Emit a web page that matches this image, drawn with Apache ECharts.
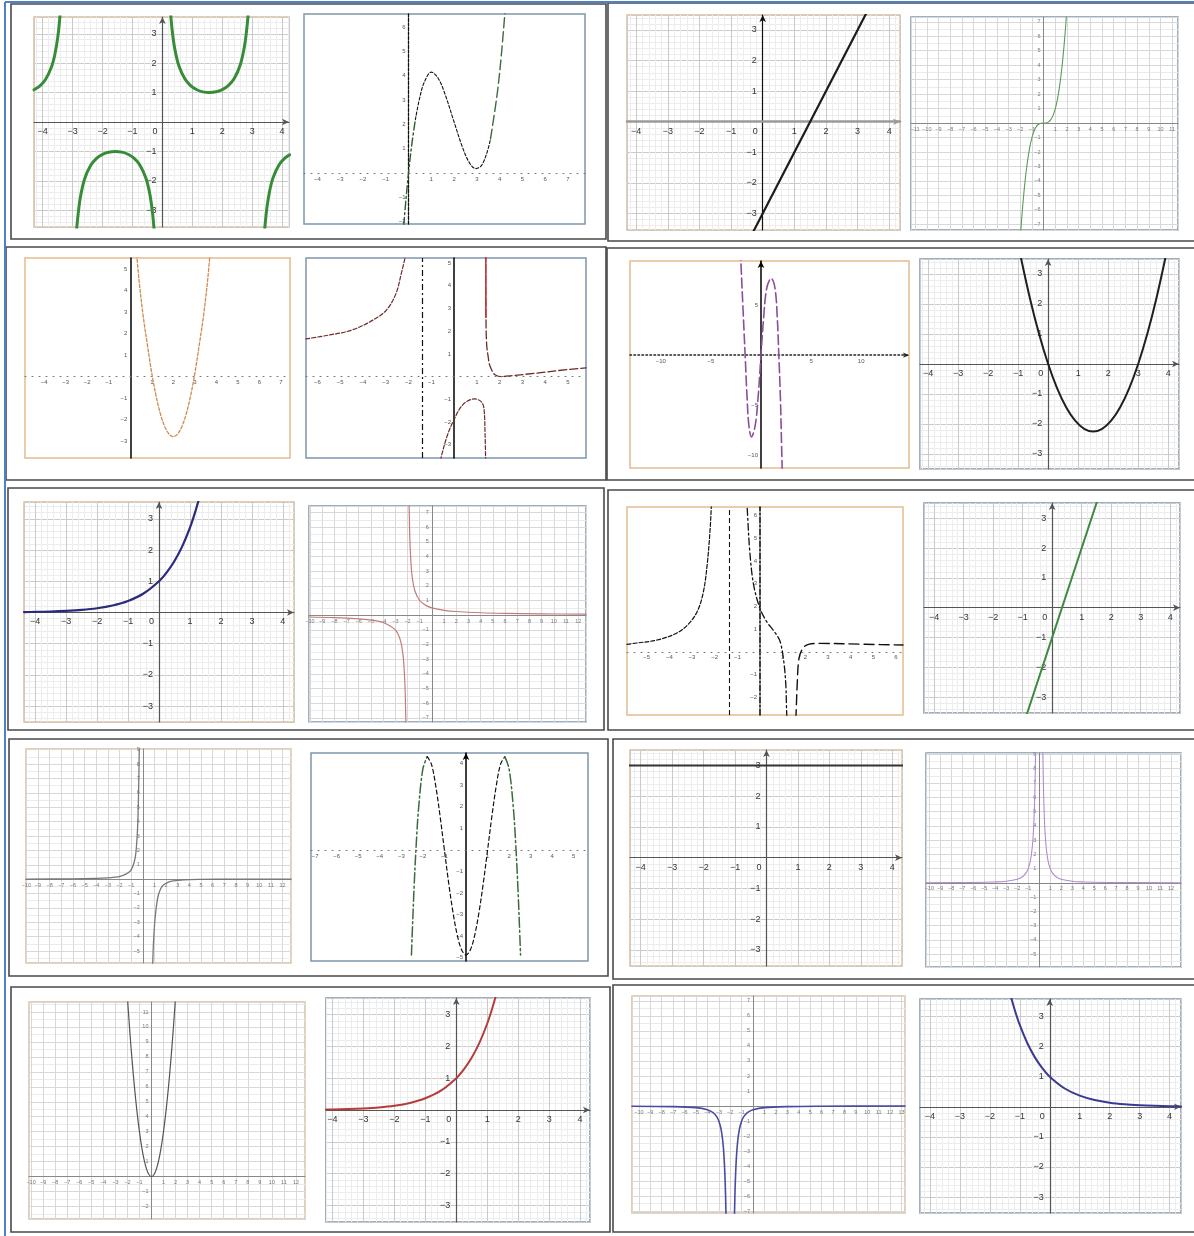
<!DOCTYPE html>
<html><head><meta charset="utf-8">
<script src="https://cdn.jsdelivr.net/npm/echarts@6/dist/echarts.min.js"></script>
<style>html,body{margin:0;padding:0;background:#fff;}#c{width:1194px;height:1236px;}</style>
</head><body><div id="c"></div>
<script>
// ================= DATA =================
// Plot 1 : cosecant branches
const csc1 = [[-4.29,1.095],[-4.1,1.222],[-3.9,1.454],[-3.7,1.887],[-3.6,2.26],[-3.5,2.851],[-3.43,3.512],[-3.4,3.9]];
const csc2 = [[-2.87,-3.73],[-2.84,-3.37],[-2.75,-2.62],[-2.6,-1.94],[-2.4,-1.48],[-2.2,-1.237],[-2.0,-1.10],[-1.8,-1.027],[-1.571,-1],[-1.35,-1.025],[-1.15,-1.096],[-0.95,-1.229],[-0.75,-1.467],[-0.55,-1.913],[-0.42,-2.452],[-0.33,-3.086],[-0.27,-3.75]];
const csc3 = [[0.27,3.75],[0.33,3.086],[0.42,2.452],[0.55,1.913],[0.75,1.467],[0.95,1.229],[1.15,1.096],[1.35,1.025],[1.571,1],[1.8,1.027],[2.0,1.10],[2.2,1.237],[2.4,1.48],[2.6,1.94],[2.75,2.62],[2.84,3.37],[2.87,3.73]];
const csc4 = [[3.4,-3.9],[3.43,-3.512],[3.5,-2.851],[3.6,-2.26],[3.7,-1.887],[3.9,-1.454],[4.1,-1.222],[4.25,-1.117]];
// Plot 2 : cubic
const cub2L = [[-0.21,-2.16],[-0.1,-0.96],[0,0],[0.15,1.22],[0.3,2.19]];
const cub2M = [[0.3,2.19],[0.5,3.13],[0.7,3.75],[1.0,4.15],[1.3,3.9],[1.6,3.25],[2.0,2.1],[2.4,0.98],[2.7,0.38],[2.95,0.18],[3.2,0.3],[3.45,0.85],[3.6,1.4]];
const cub2R = [[3.6,1.4],[3.9,3.3],[4.1,5.1],[4.3,7.4]];
// Plot 3 : straight line
const line3 = [[-0.3,-3.6],[3.3,3.6]];
// Plot 4 : cubic
const cube4 = [[-2.0,-8],[-1.9,-6.86],[-1.8,-5.83],[-1.6,-4.10],[-1.4,-2.74],[-1.2,-1.73],[-1.0,-1],[-0.8,-0.512],[-0.6,-0.216],[-0.4,-0.064],[-0.2,-0.008],[0,0],[0.2,0.008],[0.4,0.064],[0.6,0.216],[0.8,0.512],[1.0,1],[1.2,1.73],[1.4,2.74],[1.6,4.10],[1.8,5.83],[1.9,6.86],[2.0,8]];
// Plot 5 : parabola
const para5 = [[0.28,5.93],[0.4,4.56],[0.6,2.82],[0.8,1.45],[1.0,0.15],[1.2,-0.91],[1.4,-1.74],[1.6,-2.33],[1.8,-2.68],[2.0,-2.8],[2.2,-2.68],[2.4,-2.33],[2.6,-1.74],[2.8,-0.91],[3.0,0.15],[3.2,1.45],[3.4,2.82],[3.6,4.56],[3.72,5.93]];
// Plot 6 : rational function
const rat6L = [[-6.5,1.66],[-5.49,1.83],[-4.48,2.05],[-3.56,2.49],[-2.97,2.93],[-2.55,3.66],[-2.30,4.61],[-2.16,5.2],[-2.12,5.5]];
const rat6M = [[-0.6,-3.7],[-0.54,-3.43],[-0.3,-2.6],[-0.04,-1.97],[0.38,-1.24],[0.89,-0.98],[1.19,-1.1],[1.31,-1.39],[1.36,-2.56],[1.385,-3.7]];
const rat6R = [[1.39,5.4],[1.40,2.6],[1.43,1.4],[1.5,0.85],[1.56,0.51],[1.7,0.2],[1.81,0.07],[2.06,0.0],[2.6,0.05],[3.57,0.15],[4.6,0.27],[5.79,0.39]];
const rat6Red = [[1.39,5.4],[1.395,2.6]];
const asym6 = [-1.41];
// Plot 7 : oscillating curve
const wave7 = [[-2.05,10.5],[-2.01,9.4],[-1.78,4.33],[-1.55,-0.67],[-1.40,-4.0],[-1.21,-7.0],[-0.95,-8.17],[-0.57,-7.0],[-0.27,-4.0],[0,0],[0.26,3.67],[0.57,6.67],[1.02,7.67],[1.4,6.67],[1.63,3.67],[1.78,0],[1.93,-4.0],[2.08,-10.0],[2.12,-11.5]];
// Plot 8 : parabola
const para8 = [[-0.9,3.51],[-0.6,2.16],[-0.3,0.99],[0,0],[0.3,-0.81],[0.6,-1.44],[0.9,-1.89],[1.2,-2.16],[1.5,-2.25],[1.8,-2.16],[2.1,-1.89],[2.4,-1.44],[2.7,-0.81],[3.0,0],[3.3,0.99],[3.6,2.16],[3.9,3.51]];
// Plot 9 : growth curve
const exp9 = [[-4.36,0.013],[-4,0.018],[-3.5,0.030],[-3,0.050],[-2.5,0.082],[-2,0.135],[-1.5,0.223],[-1,0.368],[-0.5,0.607],[0,1],[0.25,1.284],[0.5,1.649],[0.75,2.117],[1,2.718],[1.15,3.158],[1.3,3.669]];
// Plot 10 : hyperbola
const hyp10L = [[-10.08,-0.124],[-8,-0.167],[-6,-0.25],[-5,-0.333],[-4,-0.5],[-3,-1],[-2.6,-1.667],[-2.4,-2.5],[-2.3,-3.33],[-2.2,-5],[-2.14,-7.14],[-2.12,-8.3]];
const hyp10R = [[-1.88,8.3],[-1.86,7.14],[-1.8,5],[-1.7,3.33],[-1.6,2.5],[-1.4,1.667],[-1,1],[-0.5,0.667],[0,0.5],[1,0.333],[2,0.25],[4,0.1667],[6,0.125],[9,0.0909],[12.64,0.0684]];
// Plot 11 : rational function with two poles
const rat11L = [[-5.87,0.33],[-5.57,0.37],[-4.54,0.52],[-3.70,0.81],[-3.20,1.18],[-2.78,1.76],[-2.50,2.64],[-2.32,3.96],[-2.20,5.44],[-2.15,6.39],[-2.12,7]];
const rat11M = [[-0.6,7],[-0.56,6.24],[-0.45,4.41],[-0.28,2.94],[0,1.91],[0.30,1.32],[0.64,0.88],[0.89,0.44],[1.05,-0.44],[1.14,-1.47],[1.17,-2.49],[1.19,-3]];
const rat11R = [[1.58,-3],[1.60,-2.49],[1.64,-1.47],[1.72,-0.29],[1.89,0.15],[2.14,0.33],[2.64,0.37],[4.64,0.33],[6.31,0.3]];
const asym11 = [-1.37];
// Plot 12 : straight line
const line12 = [[-0.9,-3.7],[1.6,3.8]];
// Plot 13 : odd hyperbola-like curve
const hyp13L = [[-10.03,0],[-6,0.02],[-4,0.05],[-3,0.09],[-2.4,0.14],[-1.95,0.2],[-1.5,0.33],[-1.09,0.55],[-0.85,0.9],[-0.66,1.46],[-0.55,2.2],[-0.45,3.5],[-0.38,5.3],[-0.33,7.5],[-0.3,9.1]];
const hyp13R = [[0.85,-5.9],[0.92,-4.4],[1.0,-3.3],[1.06,-2.7],[1.2,-1.7],[1.34,-1.1],[1.55,-0.65],[1.77,-0.4],[2.2,-0.2],[2.63,-0.12],[3.5,-0.05],[5,-0.02],[8,0],[12.73,0]];
// Plot 14 : even wave
const wave14L = [[-2.53,-4.88],[-2.5,-4.04],[-2.4,-1.56],[-2.3,0.40],[-2.2,1.92],[-2.0,3.76],[-1.8,4.33]];
const wave14M = [[-1.8,4.33],[-1.6,3.97],[-1.4,2.95],[-1.2,1.55],[-1.0,-0.02],[-0.8,-1.56],[-0.6,-2.92],[-0.4,-3.98],[-0.2,-4.65],[0,-4.88],[0.2,-4.65],[0.4,-3.98],[0.6,-2.92],[0.8,-1.56],[1.0,-0.02],[1.2,1.55],[1.4,2.95],[1.6,3.97],[1.8,4.33]];
const wave14R = [[1.8,4.33],[2.0,3.76],[2.2,1.92],[2.3,0.40],[2.4,-1.56],[2.5,-4.04],[2.53,-4.88]];
// Plot 15 : constant
const const15 = [[-4.4,3],[4.4,3]];
// Plot 16 : spike up
const spike16L = [[-10.3,0.0094],[-6,0.028],[-4,0.0625],[-3,0.111],[-2,0.25],[-1.5,0.444],[-1.2,0.694],[-1,1],[-0.8,1.5625],[-0.65,2.367],[-0.55,3.306],[-0.47,4.527],[-0.41,5.949],[-0.36,7.716],[-0.32,9.766]];
const spike16R = [[0.32,9.766],[0.36,7.716],[0.41,5.949],[0.47,4.527],[0.55,3.306],[0.65,2.367],[0.8,1.5625],[1,1],[1.2,0.694],[1.5,0.444],[2,0.25],[3,0.111],[4,0.0625],[6,0.028],[12.9,0.006]];
// Plot 17 : narrow parabola
const para17 = [[-2.05,12.6],[-1.8,9.72],[-1.6,7.68],[-1.4,5.88],[-1.2,4.32],[-1,3],[-0.8,1.92],[-0.6,1.08],[-0.4,0.48],[-0.2,0.12],[0,0],[0.2,0.12],[0.4,0.48],[0.6,1.08],[0.8,1.92],[1,3],[1.2,4.32],[1.4,5.88],[1.6,7.68],[1.8,9.72],[2.05,12.6]];
// Plot 18 : growth curve
const exp18 = [[-4.21,0.015],[-4,0.018],[-3.5,0.030],[-3,0.050],[-2.5,0.082],[-2,0.135],[-1.5,0.223],[-1,0.368],[-0.5,0.607],[0,1],[0.25,1.284],[0.5,1.649],[0.75,2.117],[1,2.718],[1.15,3.158],[1.3,3.669]];
// Plot 19 : spike down
const spike19L = [[-10.6,-0.0135],[-7,-0.04],[-5,-0.111],[-4,-0.25],[-3.5,-0.444],[-3.2,-0.694],[-3,-1],[-2.8,-1.5625],[-2.65,-2.367],[-2.55,-3.306],[-2.47,-4.527],[-2.41,-5.949],[-2.36,-7.716],[-2.33,-9.18]];
const spike19R = [[-1.67,-9.18],[-1.64,-7.716],[-1.59,-5.949],[-1.53,-4.527],[-1.45,-3.306],[-1.35,-2.367],[-1.2,-1.5625],[-1,-1],[-0.8,-0.694],[-0.5,-0.444],[0,-0.25],[1,-0.111],[3,-0.04],[6,-0.0156],[13.3,-0.0042]];
// Plot 20 : decay curve
const decay20 = [[-1.3,3.669],[-1.15,3.158],[-1,2.718],[-0.75,2.117],[-0.5,1.649],[-0.25,1.284],[0,1],[0.5,0.607],[1,0.368],[1.5,0.223],[2,0.135],[2.5,0.082],[3,0.050],[3.5,0.030],[4,0.018],[4.38,0.0125]];

// ================= LAYOUT =================
const panels = [
 {s:'A', f:[34,17,289,227],  x:[-4.29,4.23], y:[-3.57,3.57], b:'o'},
 {s:'C', f:[304,14,585,224], x:[-4.59,7.75], y:[-2.1,6.54], b:'b', yl:{color:'#111',width:1.3,type:[3,1.5]}},
 {s:'A', f:[627,15,900,230], x:[-4.29,4.34], y:[-3.54,3.49], b:'o', xl:{color:'#9a9a9a',width:2.5}, ylc:'#111'},
 {s:'B', f:[911,17,1178,230], x:[-11.35,11.5], y:[-7.39,7.33], b:'b'},
 {s:'C', f:[25,258,290,458], x:[-4.89,7.42], y:[-3.8,5.53], b:'o', yl:{color:'#000',width:1.5}},
 {s:'C', f:[306,258,586,458], x:[-6.5,5.79], y:[-3.58,5.22], b:'b', yl:{color:'#000',width:1.5}},
 {s:'C', f:[630,261,909,468], x:[-13.07,14.77], y:[-11.27,9.4], b:'o', step:5, yl:{color:'#000',width:1.5}, arrow:true, xdot:true},
 {s:'A', f:[920,259,1179,469], x:[-4.27,4.36], y:[-3.5,3.5], b:'b'},
 {s:'A', f:[24,502,294,722], x:[-4.36,4.36], y:[-3.51,3.54], b:'o'},
 {s:'B', f:[309,506,586,722], x:[-10.08,12.64], y:[-7.28,7.44], b:'b'},
 {s:'C', f:[627,507,903,715], x:[-5.87,6.31], y:[-2.79,6.39], b:'o', yl:{color:'#000',width:1.5,type:[6,2,2,2]}},
 {s:'A', f:[924,503,1180,713], x:[-4.34,4.33], y:[-3.53,3.51], b:'b'},
 {s:'B', f:[26,749,291,963], x:[-10.03,12.73], y:[-5.83,9.05], b:'o'},
 {s:'C', f:[311,753,588,961], x:[-7.19,5.66], y:[-5.16,4.5], b:'b', yl:{color:'#000',width:1.5}, arrow:true},
 {s:'A', f:[630,750,902,966], x:[-4.34,4.31], y:[-3.52,3.5], b:'o'},
 {s:'B', f:[926,753,1181,967], x:[-10.3,12.9], y:[-5.9,9.1], b:'b'},
 {s:'B', f:[29,1002,305,1219], x:[-10.17,12.75], y:[-2.84,11.67], b:'o'},
 {s:'A', f:[326,998,590,1222], x:[-4.21,4.32], y:[-3.52,3.52], b:'b'},
 {s:'B', f:[632,996,905,1213], x:[-10.6,13.3], y:[-7.13,7.33], b:'o'},
 {s:'A', f:[920,999,1181,1213], x:[-4.33,4.38], y:[-3.53,3.58], b:'b'}
];

const FONT = 'Liberation Sans, Arial, sans-serif';
function intLabel(v){ const r=Math.round(v); if(Math.abs(v-r)>1e-6||r===0) return ''; return (r<0?'\u2212':'')+Math.abs(r); }
function xLabelA(v){ const r=Math.round(v); if(Math.abs(v-r)<1e-6 && r===0) return '{z|0}'; return intLabel(v); }

const grids=[], xAxes=[], yAxes=[];
panels.forEach((p,i)=>{
  const W = p.f[2]-p.f[0], H = p.f[3]-p.f[1];
  // place the axes through the origin of the data window
  const xOff = -H * (0 - p.y[0]) / (p.y[1] - p.y[0]);
  const yOff = -W * (0 - p.x[0]) / (p.x[1] - p.x[0]);
  grids.push({left:p.f[0], top:p.f[1], width:W, height:H, show:true, backgroundColor:'#fff',
    borderColor: p.b==='o' ? '#e3bb8e' : '#7f97ab', borderWidth:1.5, containLabel:false, outerBoundsMode:'none'});
  const bx = {type:'value', gridIndex:i, position:'bottom', offset:xOff, min:p.x[0], max:p.x[1]};
  const by = {type:'value', gridIndex:i, position:'left', offset:yOff, min:p.y[0], max:p.y[1]};
  if (p.s==='A') {
    xAxes.push(Object.assign(bx, {minInterval:1, maxInterval:1,
      axisLine:{onZero:false, lineStyle:Object.assign({color:'#555', width:1.2}, p.xl||{}), symbol:['none','arrow'], symbolSize:[5,7]},
      axisTick:{show:false},
      axisLabel:{fontSize:9, color:'#333', fontFamily:FONT, margin:5, showMinLabel:false, showMaxLabel:false, formatter:xLabelA,
        rich:{z:{fontSize:9, color:'#333', fontFamily:FONT, padding:[0,15,0,0]}}},
      splitLine:{show:true, lineStyle:{color:'#cacaca', width:1}},
      minorTick:{show:false, splitNumber:5},
      minorSplitLine:{show:true, lineStyle:{color:'#ededed', width:1}}}));
    yAxes.push(Object.assign(by, {minInterval:1, maxInterval:1,
      axisLine:{onZero:false, lineStyle:{color:p.ylc||'#555', width:1.2}, symbol:['none','arrow'], symbolSize:[5,7]},
      axisTick:{show:false},
      axisLabel:{fontSize:9, color:'#333', fontFamily:FONT, margin:6, showMinLabel:false, showMaxLabel:false, formatter:intLabel},
      splitLine:{show:true, lineStyle:{color:'#cacaca', width:1}},
      minorTick:{show:false, splitNumber:5},
      minorSplitLine:{show:true, lineStyle:{color:'#ededed', width:1}}}));
  } else if (p.s==='B') {
    xAxes.push(Object.assign(bx, {minInterval:1, maxInterval:1,
      axisLine:{onZero:false, lineStyle:{color:'#888', width:1}},
      axisTick:{show:false},
      axisLabel:{fontSize:5.5, color:'#777', fontFamily:FONT, margin:3, showMinLabel:false, showMaxLabel:false, formatter:intLabel},
      splitLine:{show:true, lineStyle:{color:'#d8d8d8', width:1}},
      minorSplitLine:{show:false}}));
    yAxes.push(Object.assign(by, {minInterval:1, maxInterval:1,
      axisLine:{onZero:false, lineStyle:{color:'#888', width:1}},
      axisTick:{show:false},
      axisLabel:{fontSize:5.5, color:'#777', fontFamily:FONT, margin:3, showMinLabel:false, showMaxLabel:false, formatter:intLabel},
      splitLine:{show:true, lineStyle:{color:'#d8d8d8', width:1}},
      minorTick:{show:false, splitNumber:2},
      minorSplitLine:{show:true, lineStyle:{color:'#ebebeb', width:1}}}));
  } else {
    const st = p.step||1;
    xAxes.push(Object.assign(bx, {minInterval:st, maxInterval:st,
      axisLine:{onZero:false, lineStyle: p.xdot ? {color:'#222', width:1.6, type:[1.5,2.5]} : {color:'#777', width:1.1, type:[1,6]},
        symbol: p.xdot ? ['none','arrow'] : ['none','none'], symbolSize:[4,6]},
      axisTick:{show:false},
      axisLabel:{fontSize:6, color:'#555', fontFamily:FONT, margin:3, showMinLabel:false, showMaxLabel:false, formatter:intLabel},
      splitLine:{show:false}}));
    yAxes.push(Object.assign(by, {minInterval:st, maxInterval:st,
      axisLine:{onZero:false, lineStyle:p.yl, symbol: p.arrow ? ['none','arrow'] : ['none','none'], symbolSize:[5,7]},
      axisTick:{show:false},
      axisLabel:{fontSize:6, color:'#555', fontFamily:FONT, margin:3, showMinLabel:false, showMaxLabel:false, formatter:intLabel},
      splitLine:{show:false}}));
  }
});

function ln(gi, data, color, width, type, extra){
  return Object.assign({type:'line', xAxisIndex:gi, yAxisIndex:gi, data:data, symbol:'none', showSymbol:false,
    smooth:0.35, clip:true, silent:true, animation:false, z:3,
    lineStyle:{color:color, width:width, type:type||'solid', cap:'round', join:'round'}}, extra||{});
}
function vline(gi, vals, color, type, width){
  return {type:'line', xAxisIndex:gi, yAxisIndex:gi, data:[], silent:true, animation:false,
    markLine:{symbol:['none','none'], silent:true, label:{show:false}, animation:false,
      lineStyle:{color:color, type:type, width:width}, data: vals.map(v=>({xAxis:v}))}};
}

const G1='#378c37';
const series = [
  ln(0,csc1,G1,3), ln(0,csc2,G1,3), ln(0,csc3,G1,3), ln(0,csc4,G1,3),
  ln(1,cub2L,'#2e5a2e',1.4,[8,3,2,3]), ln(1,cub2M,'#111',1.1,[3,2]), ln(1,cub2R,'#3d6b3d',1.4,[10,4]),
  ln(2,line3,'#1c1c1c',2.2),
  ln(3,cube4,'#5c9a5c',1.1),
  ln(4,para5,'#cf8a4d',1.3,[3,2]),
  vline(5,asym6,'#111',[6,3,2,3],1.2),
  ln(5,rat6L,'#6e2a2a',1.2,[4,2]), ln(5,rat6M,'#6e2a2a',1.2,[4,2]), ln(5,rat6R,'#6e2a2a',1.3,[8,3]), ln(5,rat6Red,'#c43a3a',1.6),
  ln(6,wave7,'#8b4e9c',1.6,[10,4]),
  ln(7,para8,'#1f1f1f',2),
  ln(8,exp9,'#2b2a7c',2.2),
  ln(9,hyp10L,'#c47c7a',1.2), ln(9,hyp10R,'#c47c7a',1.2),
  vline(10,asym11,'#111',[5,3],1.1),
  ln(10,rat11L,'#111',1.2,[4,2]), ln(10,rat11M,'#111',1.3,[7,3,2,3]), ln(10,rat11R,'#111',1.4,[10,5]),
  ln(11,line12,'#3f8a3f',2),
  ln(12,hyp13L,'#777',1.3), ln(12,hyp13R,'#777',1.3),
  ln(13,wave14L,'#3b6b3b',1.5,[10,3,2,3]), ln(13,wave14M,'#111',1.2,[4,3]), ln(13,wave14R,'#3b6b3b',1.5,[10,3,2,3]),
  ln(14,const15,'#333',2),
  ln(15,spike16L,'#b08bd0',1.1), ln(15,spike16R,'#b08bd0',1.1),
  ln(16,para17,'#555',1.2),
  ln(17,exp18,'#b43c3c',2),
  ln(18,spike19L,'#4a4aa2',1.6), ln(18,spike19R,'#4a4aa2',1.6),
  ln(19,decay20,'#3a3a92',2)
];

const dark = {stroke:'#4a4a4a', lineWidth:1.6, fill:null};
function rect(x0,y0,x1,y1){ return {type:'rect', silent:true, z:10, shape:{x:x0,y:y0,width:x1-x0,height:y1-y0}, style:Object.assign({}, dark)}; }
const graphic = [
  rect(11,4,606,239), rect(6,247,606,480), rect(8,488,604,730), rect(9,739,608,976), rect(11,987,610,1232),
  rect(608,3,1197,241), rect(607,248,1197,480), rect(608,490,1197,730), rect(613,739,1197,979), rect(613,985,1197,1232),
  {type:'line', silent:true, z:11, shape:{x1:5,y1:2,x2:5,y2:1236}, style:{stroke:'#4f7fc6', lineWidth:2}},
  {type:'line', silent:true, z:11, shape:{x1:5,y1:2,x2:1194,y2:2}, style:{stroke:'#4f7fc6', lineWidth:2}}
];

const chart = echarts.init(document.getElementById('c'), null, {renderer:'canvas'});
chart.setOption({animation:false, backgroundColor:'#fff', textStyle:{fontFamily:FONT},
  grid:grids, xAxis:xAxes, yAxis:yAxes, series:series, graphic:graphic});
</script></body></html>
